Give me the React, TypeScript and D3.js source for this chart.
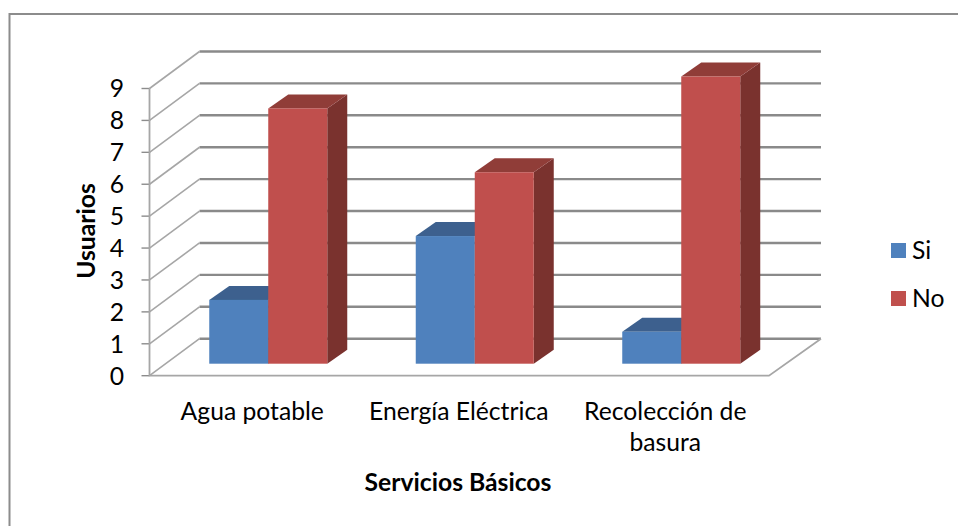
import { useEffect, useRef } from "react";
import * as d3 from "d3";

const categories = [["Agua potable"], ["Energía Eléctrica"], ["Recolección de", "basura"]];
const seriesNames = ["Si", "No"];
const siValues = [2, 4, 1];
const noValues = [8, 6, 9];
const yTicks = [0, 1, 2, 3, 4, 5, 6, 7, 8, 9];

const FONT = "Lato, 'Open Sans', sans-serif";
const FONT_SIZE = 24.7;
const colors = { Si: "#4f81bd", No: "#c0504d" } as Record<string, string>;
const tops = { Si: "#3c618e", No: "#903c39" } as Record<string, string>;
const sides = { Si: "#2f4d71", No: "#7a302e" } as Record<string, string>;

export default function App() {
  const svgRef = useRef<SVGSVGElement | null>(null);

  useEffect(() => {
    if (!svgRef.current) return;
    const svg = d3.select(svgRef.current);
    svg.selectAll("*").remove();

    // the reference is a slightly soft bitmap
    svg
      .append("defs")
      .append("filter")
      .attr("id", "soft")
      .attr("filterUnits", "userSpaceOnUse")
      .attr("x", 0)
      .attr("y", 0)
      .attr("width", 958)
      .attr("height", 526)
      .append("feGaussianBlur")
      .attr("stdDeviation", 0.55);

    // frame of the chart area
    svg
      .append("rect")
      .attr("x", 9.5)
      .attr("y", 14)
      .attr("width", 960)
      .attr("height", 540)
      .attr("fill", "#fff")
      .attr("stroke", "#8c8c8c")
      .attr("stroke-width", 2);

    const left = 149.5;
    const right = 769;
    // wall offset of the 3d box and of the bars inside it
    const wallX = 50;
    const wallY = 37;
    const x = d3
      .scaleBand<number>()
      .domain(categories.map((_, i) => i))
      .range([left, right]);
    const y = d3.scaleLinear().domain([0, 9]).range([375.7, 88.5]);

    const plot = svg.append("g").attr("filter", "url(#soft)");

    // Gridlines with the slanted part on the side wall
    const grid = plot.append("g");
    yTicks.forEach((t) => {
      const yy = y(t);
      grid
        .append("line")
        .attr("x1", left + wallX)
        .attr("x2", right + wallX + 2)
        .attr("y1", yy - wallY)
        .attr("y2", yy - wallY)
        .attr("stroke", "#8a8a8a")
        .attr("stroke-width", 2.4);
      grid
        .append("line")
        .attr("x1", left)
        .attr("y1", yy)
        .attr("x2", left + wallX)
        .attr("y2", yy - wallY)
        .attr("stroke", "#a6a6a6")
        .attr("stroke-width", 1.6);
      grid
        .append("line")
        .attr("x1", left - 8)
        .attr("x2", left)
        .attr("y1", yy)
        .attr("y2", yy)
        .attr("stroke", "#8c8c8c")
        .attr("stroke-width", 1.4);
    });
    // front axis and floor edges
    grid
      .append("path")
      .attr(
        "d",
        `M${left},${y(9)}L${left},${y(0)}L${right},${y(0)}L${right + wallX + 2},${y(0) - wallY}`,
      )
      .attr("fill", "none")
      .attr("stroke", "#a6a6a6")
      .attr("stroke-width", 1.8);

    // Bars
    const barW = 59;
    const depthX = 20;
    const depthY = 14;
    const shiftX = 15.5;
    const shiftY = 12;
    const base = y(0) - shiftY;
    const h = (v: number) => y(0) - y(v);
    const drawBar = (name: string, x0: number, v: number) => {
      const top = base - h(v);
      const g = plot.append("g");
      g.append("path")
        .attr("d", `M${x0 + barW},${top}l${depthX},${-depthY}V${base - depthY}l${-depthX},${depthY}Z`)
        .attr("fill", sides[name]);
      g.append("path")
        .attr("d", `M${x0},${top}l${depthX},${-depthY}H${x0 + barW + depthX}l${-depthX},${depthY}Z`)
        .attr("fill", tops[name]);
      g.append("rect")
        .attr("x", x0)
        .attr("y", top)
        .attr("width", barW)
        .attr("height", h(v))
        .attr("fill", colors[name]);
    };
    categories.forEach((_, i) => {
      const c = x(i)! + x.bandwidth() / 2 + shiftX;
      drawBar("Si", c - barW, siValues[i]);
      drawBar("No", c, noValues[i]);
    });

    // Y tick labels
    svg
      .append("g")
      .selectAll("text")
      .data(yTicks)
      .enter()
      .append("text")
      .attr("x", 124)
      .attr("y", (d) => y(d))
      .attr("dy", "0.36em")
      .attr("text-anchor", "end")
      .attr("font-family", FONT)
      .attr("font-size", FONT_SIZE)
      .attr("fill", "#000")
      .text((d) => d);

    // Category labels
    categories.forEach((lines, i) => {
      lines.forEach((line, j) => {
        svg
          .append("text")
          .attr("x", x(i)! + x.bandwidth() / 2 - 0.5)
          .attr("y", 420 + j * 31)
          .attr("text-anchor", "middle")
          .attr("font-family", FONT)
          .attr("font-size", FONT_SIZE)
          .attr("fill", "#000")
          .text(line);
      });
    });

    // Axis titles
    svg
      .append("text")
      .attr("x", 458)
      .attr("y", 491)
      .attr("text-anchor", "middle")
      .attr("font-family", FONT)
      .attr("font-size", FONT_SIZE)
      .attr("font-weight", "bold")
      .text("Servicios Básicos");
    svg
      .append("text")
      .attr("transform", "translate(95,231) rotate(-90)")
      .attr("text-anchor", "middle")
      .attr("font-family", FONT)
      .attr("font-size", FONT_SIZE)
      .attr("font-weight", "bold")
      .text("Usuarios");

    // Legend
    seriesNames.forEach((name, i) => {
      const ly = 243 + i * 48;
      svg
        .append("rect")
        .attr("x", 891)
        .attr("y", ly)
        .attr("width", 15)
        .attr("height", 15)
        .attr("fill", colors[name]);
      svg
        .append("text")
        .attr("x", 912)
        .attr("y", ly + 16)
        .attr("font-family", FONT)
        .attr("font-size", FONT_SIZE)
        .attr("fill", "#000")
        .text(name);
    });
  }, []);

  return (
    <svg
      ref={svgRef}
      width={958}
      height={526}
      style={{ position: "absolute", left: 0, top: 0, background: "#fff" }}
    />
  );
}
